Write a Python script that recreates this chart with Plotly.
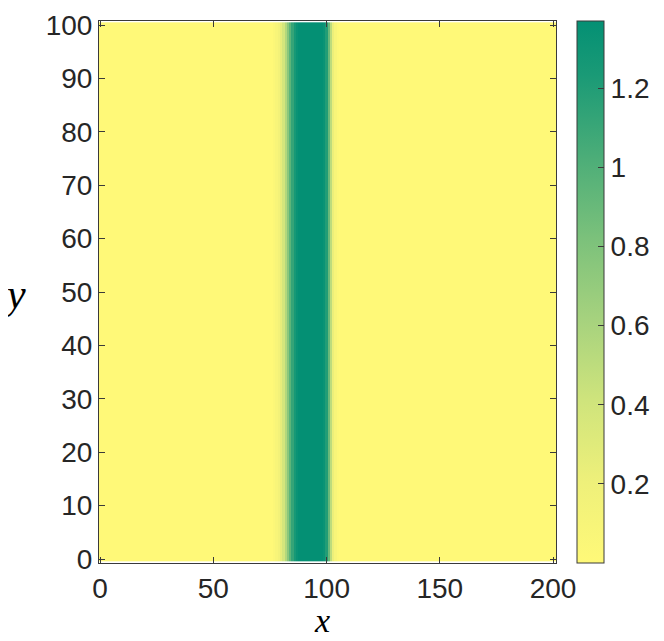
import numpy as np
import plotly.graph_objects as go

# --- data -------------------------------------------------------------------
x_vals = list(range(0, 202))          # x grid (cell centres)
y_vals = list(range(0, 101))          # y grid

# profile across x inside the band; zero elsewhere
band_x = [77, 78, 79, 80, 81, 82, 83, 84, 85, 86, 87, 88, 89, 90, 91, 92,
          93, 94, 95, 96, 97, 98, 99, 100, 101, 102, 103, 104, 105]
band_val = [0.04, 0.08, 0.15, 0.25, 0.38, 0.55, 0.75, 0.95, 1.12, 1.25, 1.33,
            1.37, 1.37, 1.37, 1.37, 1.37, 1.37, 1.37, 1.37, 1.37, 1.37, 1.37,
            1.33, 1.20, 0.90, 0.50, 0.22, 0.08, 0.02]

cbar_ticks = [0.2, 0.4, 0.6, 0.8, 1.0, 1.2]

# --- styling ----------------------------------------------------------------
TEXT = "#262626"
AXIS = "#3a3a3a"
FONT = "Liberation Sans, Arial, sans-serif"
COLORSCALE = [
    [0.00, "#FFF978"],
    [0.15, "#EEF07A"],
    [0.30, "#CFE47C"],
    [0.45, "#A6D27E"],
    [0.60, "#7BC17B"],
    [0.75, "#4BAD78"],
    [0.90, "#1A9A76"],
    [1.00, "#049074"],
]

profile = np.zeros(len(x_vals))
for bx, bv in zip(band_x, band_val):
    profile[x_vals.index(bx)] = bv
z = np.tile(profile, (len(y_vals), 1))

fig = go.Figure(
    go.Heatmap(
        x=x_vals,
        y=y_vals,
        z=z,
        zmin=0,
        zmax=1.37,
        colorscale=COLORSCALE,
        zsmooth=False,
        colorbar=dict(
            x=1.046,
            xanchor="left",
            y=0.5,
            yanchor="middle",
            len=1.0,
            lenmode="fraction",
            thickness=27,
            thicknessmode="pixels",
            outlinewidth=1,
            outlinecolor=AXIS,
            tickvals=cbar_ticks,
            ticks="inside",
            ticklen=6,
            tickcolor=AXIS,
            tickfont=dict(family=FONT, size=28, color=TEXT),
            xpad=0,
            ypad=0,
        ),
    )
)

axis_common = dict(
    showgrid=False,
    zeroline=False,
    showline=True,
    linecolor=AXIS,
    linewidth=1,
    mirror="allticks",
    ticks="inside",
    ticklen=6,
    tickcolor=AXIS,
    automargin=False,
    tickfont=dict(family=FONT, size=28, color=TEXT),
)

fig.update_xaxes(range=[-0.5, 201.3], tickvals=[0, 50, 100, 150, 200],
                 ticklabelstandoff=0, **axis_common)
fig.update_yaxes(range=[-0.75, 100.75], tickvals=list(range(0, 101, 10)), **axis_common)

# page body adds an 8px offset, so the figure is 8px smaller and margins shift
fig.update_layout(
    width=656,
    height=633,
    margin=dict(l=91, r=108, t=13, b=78, autoexpand=False),
    paper_bgcolor="white",
    plot_bgcolor="white",
    font=dict(family=FONT, color=TEXT),
    annotations=[
        dict(text="<i>y</i>", xref="paper", yref="paper", x=0, y=0.5,
             xanchor="center", yanchor="middle", xshift=-85, yshift=-2,
             showarrow=False,
             font=dict(family="Liberation Serif, serif", size=42, color="black")),
        dict(text="<i>x</i>", xref="paper", yref="paper", x=0.489, y=0,
             xanchor="center", yanchor="bottom", yshift=-78,
             showarrow=False,
             font=dict(family="Liberation Serif, serif", size=34, color="black")),
    ],
)

fig.write_html("out.html")
